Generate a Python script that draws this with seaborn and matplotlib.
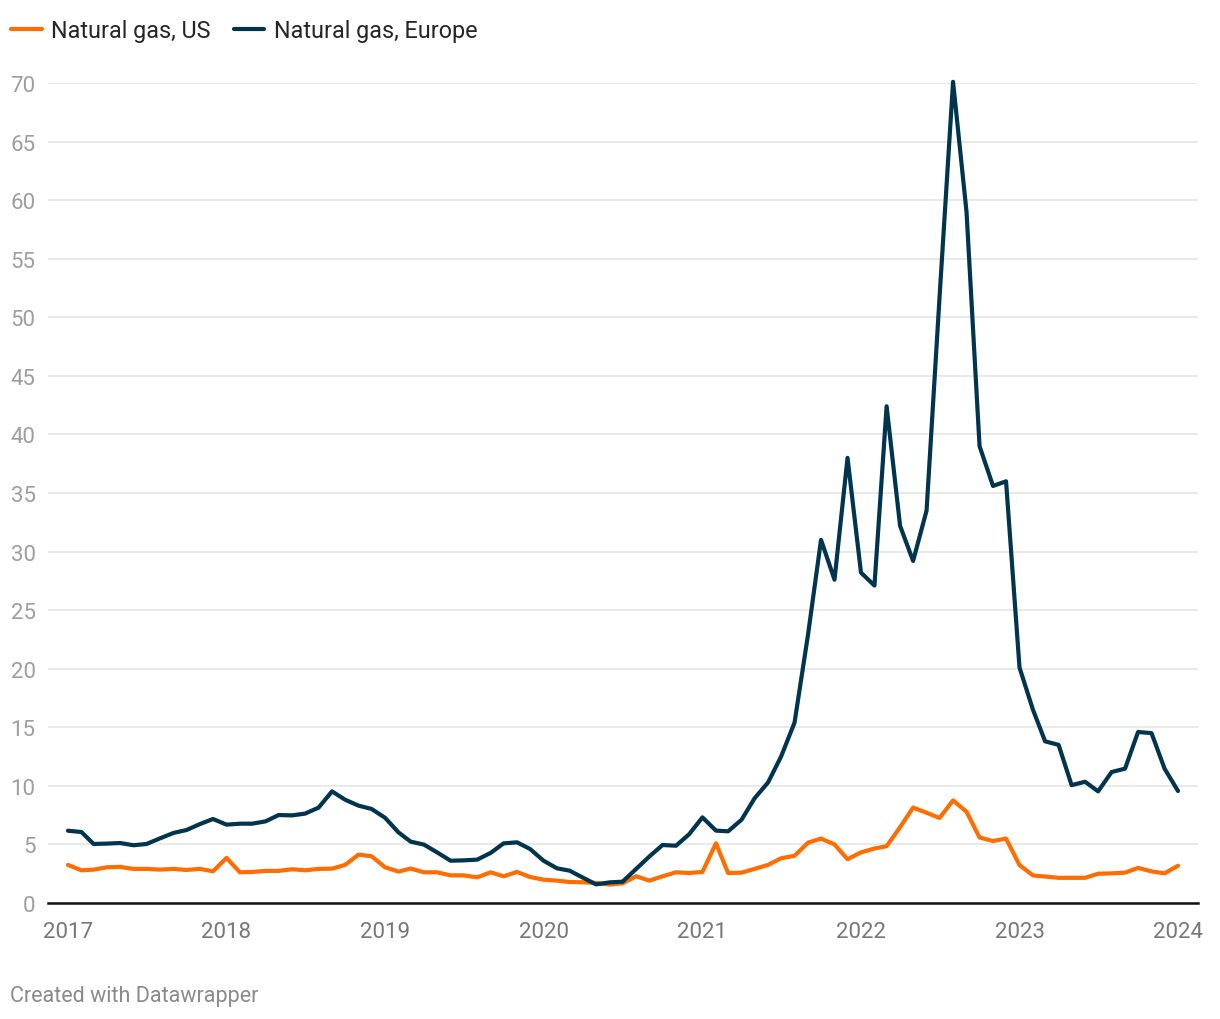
import matplotlib
matplotlib.use('Agg')
import matplotlib.pyplot as plt
import matplotlib.dates as mdates
import pandas as pd
import seaborn as sns

# monthly prices, Jan 2017 - Jan 2024
months = pd.date_range('2017-01-01', '2024-01-01', freq='MS')

us = [3.25, 2.79, 2.85, 3.05, 3.08, 2.91, 2.91, 2.85, 2.91, 2.82, 2.91, 2.71,
      3.85, 2.62, 2.65, 2.74, 2.74, 2.88, 2.79, 2.91, 2.93, 3.25, 4.13, 3.99,
      3.05, 2.68, 2.94, 2.62, 2.62, 2.36, 2.36, 2.19, 2.62, 2.28, 2.65, 2.22,
      1.99, 1.91, 1.79, 1.77, 1.71, 1.57, 1.68, 2.28, 1.91, 2.28, 2.62, 2.56,
      2.65, 5.10, 2.56, 2.59, 2.91, 3.25, 3.82, 4.03, 5.15, 5.50, 5.00, 3.74,
      4.32, 4.65, 4.85, 6.47, 8.15, 7.70, 7.26, 8.76, 7.79, 5.59, 5.29, 5.50,
      3.24, 2.35, 2.26, 2.15, 2.15, 2.15, 2.50, 2.53, 2.59, 3.00, 2.70, 2.53,
      3.18]

europe = [6.17, 6.06, 5.04, 5.07, 5.12, 4.93, 5.04, 5.52, 5.98, 6.23, 6.74, 7.17,
          6.69, 6.77, 6.77, 6.97, 7.51, 7.48, 7.63, 8.14, 9.53, 8.82, 8.31, 8.03,
          7.28, 6.03, 5.24, 4.98, 4.32, 3.61, 3.64, 3.70, 4.27, 5.09, 5.18, 4.61,
          3.61, 2.96, 2.76, 2.16, 1.59, 1.76, 1.82, 2.90, 3.98, 4.95, 4.89, 5.86,
          7.31, 6.18, 6.12, 7.11, 8.94, 10.29, 12.5, 15.4, 22.9, 31.0, 27.6, 38.0,
          28.2, 27.1, 42.4, 32.2, 29.2, 33.5, 51.8, 70.1, 59.0, 39.0, 35.6, 36.0,
          20.1, 16.5, 13.8, 13.5, 10.06, 10.35, 9.53, 11.18, 11.47, 14.6, 14.5, 11.47,
          9.56]

series_names = ['Natural gas, US', 'Natural gas, Europe']
colors = ['#ff6c00', '#00344f']
yticks = list(range(0, 75, 5))
year_ticks = pd.date_range('2017-01-01', '2024-01-01', freq='YS')

df = pd.DataFrame({'date': months, series_names[0]: us, series_names[1]: europe})
long = df.melt(id_vars='date', var_name='series', value_name='price')

sns.set_style('white')
plt.rcParams['font.family'] = ['Roboto', 'DejaVu Sans']

fig = plt.figure(figsize=(12.2, 10.2), dpi=100)
ax = fig.add_axes([48 / 1220, 1 - 904 / 1020, 1150 / 1220, 820 / 1020])

sns.lineplot(data=long, x='date', y='price', hue='series', hue_order=series_names,
             palette=colors, linewidth=3.0, ax=ax, legend=False, clip_on=False)

# x range: pad ~20px on each side of the data
pad = pd.Timedelta(days=46)
ax.set_xlim(months[0] - pad, months[-1] + pad)
ax.set_ylim(0, 70)

ax.set_yticks(yticks)
ax.set_xticks(year_ticks)
ax.xaxis.set_major_formatter(mdates.DateFormatter('%Y'))
ax.set_xlabel('')
ax.set_ylabel('')

ax.grid(axis='y', color='#e3e3e3', linewidth=1.1)
ax.grid(axis='x', visible=False)
ax.set_axisbelow(True)
for s in ['top', 'right', 'left']:
    ax.spines[s].set_visible(False)
ax.spines['bottom'].set_color('#111111')
ax.spines['bottom'].set_linewidth(1.8)
ax.spines['bottom'].set_zorder(1)

ax.tick_params(axis='y', length=0, pad=9, labelsize=16, labelcolor='#9e9e9e')
ax.tick_params(axis='x', length=0, pad=13, labelsize=16, labelcolor='#777777')

# legend
handles = [plt.Line2D([], [], color=c, linewidth=3.0) for c in colors]
fig.legend(handles, series_names, loc='upper left', bbox_to_anchor=(-0.004, 0.996),
           ncol=2, frameon=False, fontsize=16.8, handlelength=1.3,
           handletextpad=0.4, columnspacing=1.0, borderaxespad=0.3)

fig.text(10 / 1220, 1 - 997 / 1020, 'Created with Datawrapper', fontsize=15.5,
         color='#8a8a8a', va='center', ha='left')

fig.savefig('out.png', dpi=100)
